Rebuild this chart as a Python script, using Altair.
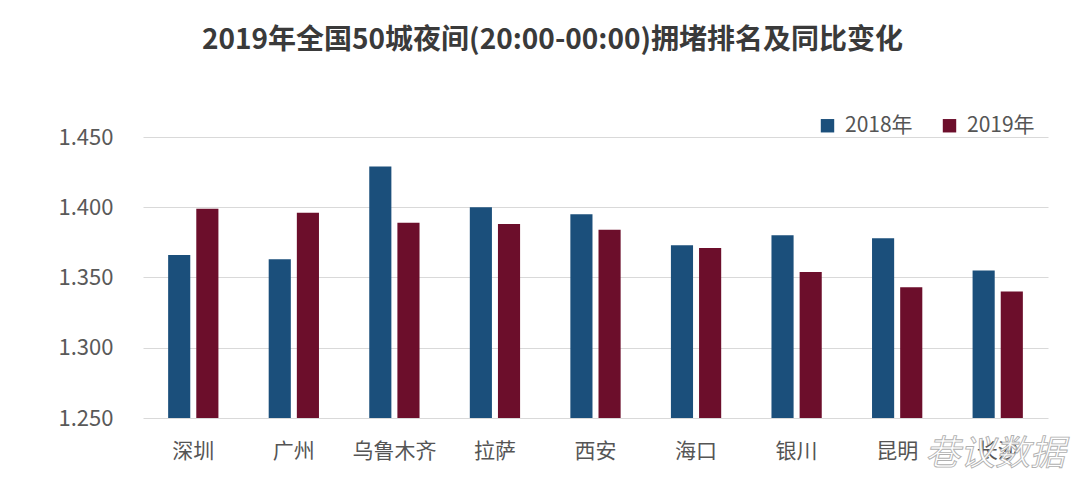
import altair as alt
import pandas as pd

cities = ["深圳", "广州", "乌鲁木齐", "拉萨", "西安", "海口", "银川", "昆明", "长沙"]
v2018 = [1.366, 1.363, 1.429, 1.400, 1.395, 1.373, 1.380, 1.378, 1.355]
v2019 = [1.399, 1.396, 1.389, 1.388, 1.384, 1.371, 1.354, 1.343, 1.340]
years = ["2018年", "2019年"]
colors = ["#1B4F7B", "#6C0E2B"]

rows = []
for c, a, b in zip(cities, v2018, v2019):
    rows.append({"city": c, "year": years[0], "value": a})
    rows.append({"city": c, "year": years[1], "value": b})
df = pd.DataFrame(rows)

FONT = "Noto Sans CJK SC"

bars = alt.Chart(df).mark_bar(clip=True).encode(
    x=alt.X("city:N", sort=cities, title=None,
            scale=alt.Scale(paddingInner=0.5, paddingOuter=0.25),
            axis=alt.Axis(labelAngle=0, labelFontSize=21, labelColor="#555555",
                          labelFont=FONT, labelPadding=22, ticks=False, domain=False,
                          grid=False)),
    xOffset=alt.XOffset("year:N", sort=years,
                        scale=alt.Scale(paddingInner=0.214, paddingOuter=0)),
    y=alt.Y("value:Q", title=None,
            scale=alt.Scale(domain=[1.25, 1.45], nice=False, zero=False),
            axis=alt.Axis(values=[1.25, 1.30, 1.35, 1.40, 1.45], format=".3f",
                          labelFontSize=22, labelColor="#595959", labelFont=FONT,
                          labelPadding=30, ticks=False, domain=False,
                          gridColor="#d9d9d9", gridWidth=1.2)),
    color=alt.Color("year:N", sort=years,
                    scale=alt.Scale(domain=years, range=colors),
                    legend=alt.Legend(title=None, orient="none", direction="horizontal",
                                      legendX=674, legendY=-22, symbolType="square",
                                      symbolSize=180, symbolStrokeWidth=0,
                                      labelFontSize=21, labelColor="#555555",
                                      labelFont=FONT, labelOffset=7, columnPadding=26)),
)

wm = alt.Chart(pd.DataFrame({"t": ["巷议数据"]})).mark_text(
    font=FONT, fontSize=35, fill="white", stroke="#b0b0b0", strokeWidth=0.9,
    align="center", baseline="middle", fontStyle="italic"
).encode(text="t:N", x=alt.value(852), y=alt.value(317))

chart = alt.layer(bars, wm).properties(
    width=905, height=281,
    background="white",
    autosize=alt.AutoSizeParams(type="none"),
    padding={"left": 143, "top": 137, "right": 32, "bottom": 72},
    title=alt.TitleParams("2019年全国50城夜间(20:00-00:00)拥堵排名及同比变化",
                          font=FONT, fontSize=28, fontWeight="bold", color="#3a3a3a",
                          anchor="middle", dx=-43, offset=60),
).configure_view(stroke="transparent", strokeWidth=0).configure_axisX(grid=False)

chart.save("out.html", embed_options={"renderer": "svg", "actions": False})
